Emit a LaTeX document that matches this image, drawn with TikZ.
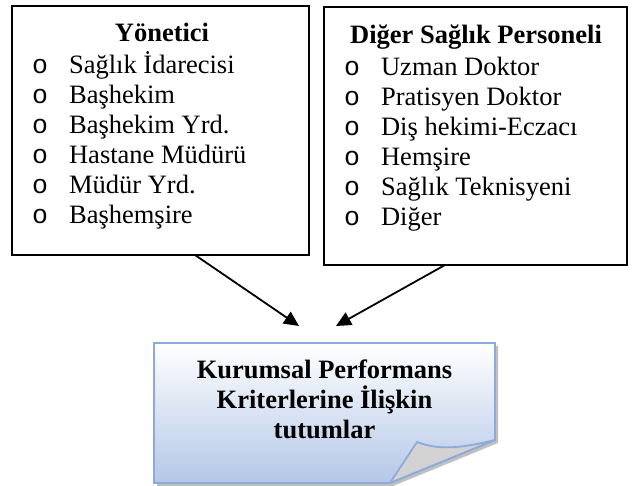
\documentclass[tikz,border=0pt]{standalone}
\usepackage{fontspec}
\setmainfont{Liberation Serif}
\newfontfamily\madde{Liberation Mono}
\usetikzlibrary{arrows.meta}
\definecolor{notkenar}{RGB}{141,170,220}
\definecolor{notalt}{RGB}{180,199,231}
\definecolor{kivrim}{RGB}{210,210,210}
\newcommand{\mo}{{\madde o}}
\newcommand{\madlist}[1]{\begin{tabular}[t]{@{}l@{\hspace{21pt}}l@{}}#1\end{tabular}}

\begin{document}
\begin{tikzpicture}[x=1pt,y=-1pt,
  kutu/.style={draw,line width=1.8pt,outer sep=0pt,inner sep=0pt},
  baslik/.style={font=\fontsize{26.5}{30}\selectfont\bfseries,anchor=base,inner sep=0pt},
  liste/.style={font=\fontsize{26.5}{30}\selectfont,anchor=base west,inner sep=0pt},
  ok/.style={-{Triangle[length=15pt,width=14pt]},line width=1.8pt}]
  \useasboundingbox[fill=white] (0,0) rectangle (633,486);

  \node[kutu,minimum width=297pt,minimum height=249pt] (yon) at (160.5,130.5) {};
  \node[kutu,minimum width=303pt,minimum height=258pt] (dig) at (475.5,136) {};

  \node[baslik] (yonb) at (162,42) {Yönetici};
  \node[liste] (yonl) at (32,74) {\madlist{
      \mo & Sağlık İdarecisi\\
      \mo & Başhekim\\
      \mo & Başhekim Yrd.\\
      \mo & Hastane Müdürü\\
      \mo & Müdür Yrd.\\
      \mo & Başhemşire}};

  \node[baslik] (digb) at (476,44) {Diğer Sağlık Personeli};
  \node[liste] (digl) at (344,76) {\madlist{
      \mo & Uzman Doktor\\
      \mo & Pratisyen Doktor\\
      \mo & Diş hekimi-Eczacı\\
      \mo & Hemşire\\
      \mo & Sağlık Teknisyeni\\
      \mo & Diğer}};

  % not kagidi
  \fill[black!35,opacity=.7,xshift=3pt,yshift=-3pt] (154,343) -- (495,343) -- (495,440) -- (390,483) -- (154,483) -- cycle;
  \shade[top color=white,bottom color=notalt,draw=notkenar,line width=1.8pt] (154,343) -- (495,343) -- (495,440) -- (390,483) -- (154,483) -- cycle;
  \filldraw[fill=kivrim,draw=notkenar,line width=1.8pt,line join=round] (390,483) -- (417,442) .. controls (442,452) and (470,446) .. (495,440) -- cycle;
  \node[font=\fontsize{26.5}{30}\selectfont\bfseries,align=center] (tutum) at (324.5,399) {Kurumsal Performans\\Kriterlerine İlişkin\\tutumlar};

  \coordinate (hedefA) at (299,326);
  \coordinate (hedefB) at (336,326);
  \draw[ok] ([xshift=34.5pt]yon.south) -- (hedefA);
  \draw[ok] ([xshift=-30.5pt]dig.south) -- (hedefB);
\end{tikzpicture}
\end{document}
